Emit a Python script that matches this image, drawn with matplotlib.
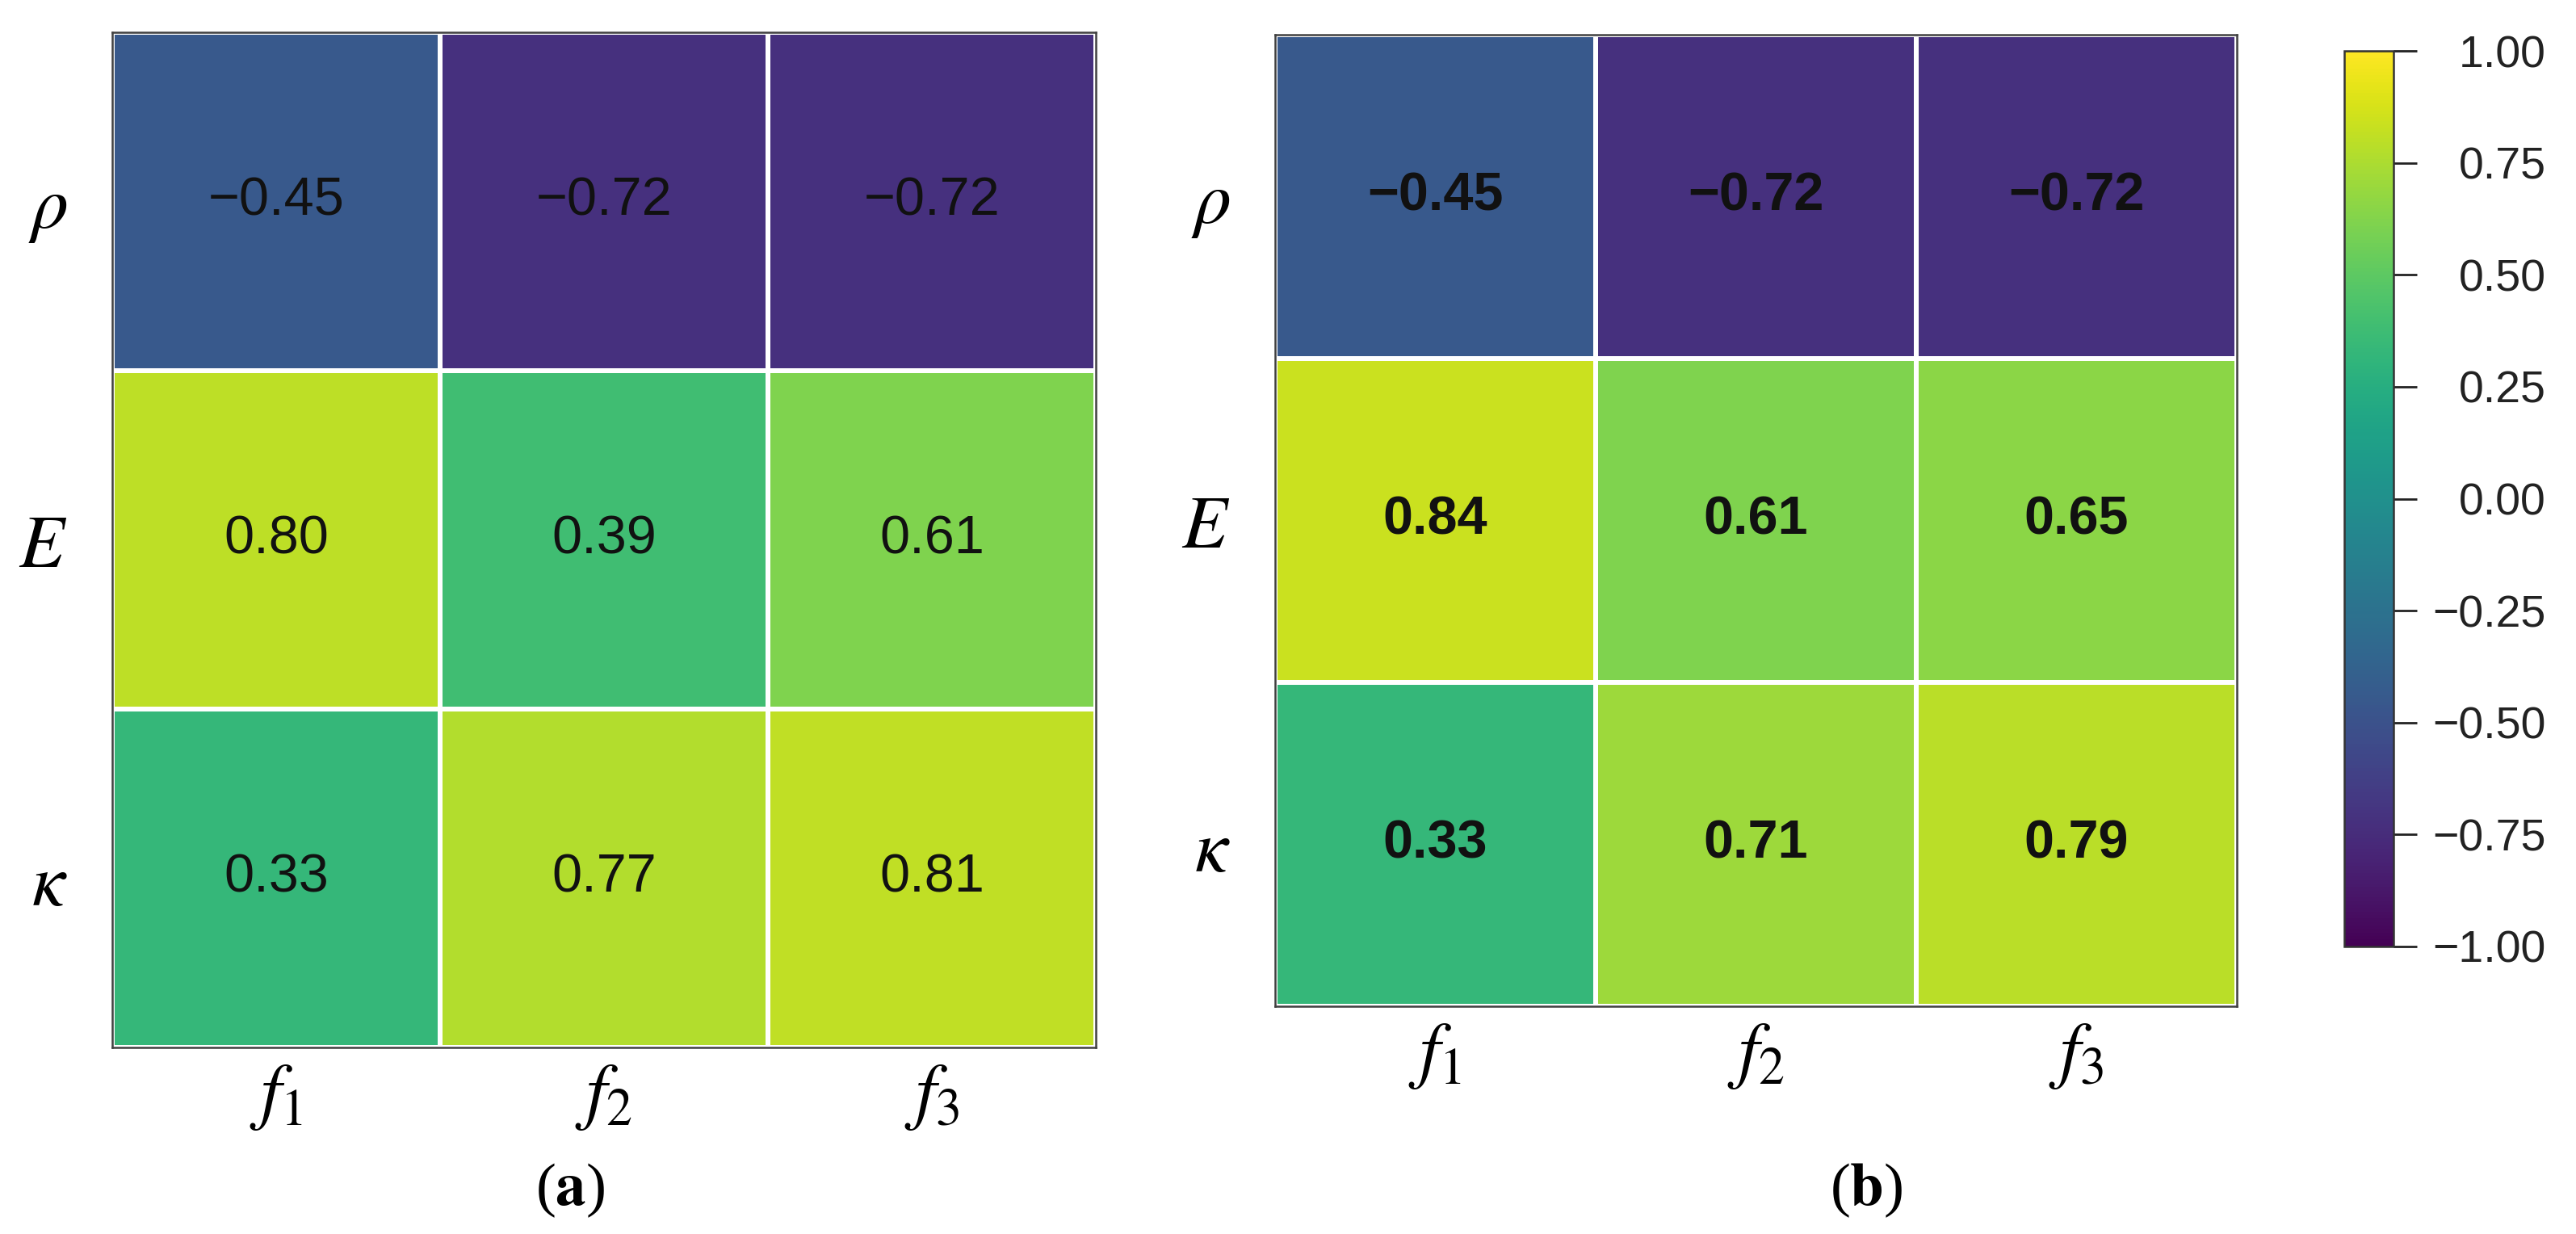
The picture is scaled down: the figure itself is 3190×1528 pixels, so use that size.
import numpy as np
import matplotlib
matplotlib.use("Agg")
import matplotlib.pyplot as plt
from matplotlib.ticker import FuncFormatter

plt.rcParams['mathtext.fontset'] = 'stix'
plt.rcParams['font.family'] = ['Liberation Sans', 'DejaVu Sans']

# Data
row_labels = [r'$\rho$', r'$E$', r'$\kappa$']
col_labels = [r'$f_1$', r'$f_2$', r'$f_3$']
corr_a = [[-0.45, -0.72, -0.72],
          [0.80, 0.39, 0.61],
          [0.33, 0.77, 0.81]]
corr_b = [[-0.45, -0.72, -0.72],
          [0.84, 0.61, 0.65],
          [0.33, 0.71, 0.79]]
panel_names = ['a', 'b']
cbar_ticks = [-1.00, -0.75, -0.50, -0.25, 0.00, 0.25, 0.50, 0.75, 1.00]

W, H = 3190, 1528
fig = plt.figure(figsize=(W / 100, H / 100), dpi=100)


def fx(px):
    return px / W


def fy(py):
    return 1 - py / H


def minus(v):
    return f"{v:.2f}".replace('-', '\u2212')


# axes boxes (pixel coords: left, top, right, bottom)
boxes = [(139, 40, 1357, 1297), (1579, 43, 2770, 1246)]
label_x = [706, 2311]
weights = ['normal', 'bold']


def draw_heatmap(ax, data, weight):
    data = np.array(data)
    mesh = ax.pcolormesh(data, cmap='viridis', vmin=-1, vmax=1,
                         edgecolors='white', linewidth=3.0)
    ax.set_xlim(0, data.shape[1])
    ax.set_ylim(data.shape[0], 0)
    for i in range(data.shape[0]):
        for j in range(data.shape[1]):
            ax.text(j + 0.5, i + 0.5, minus(data[i, j]), ha='center', va='center',
                    fontsize=48, fontweight=weight, color='#111111')
    ax.set_xticks(np.arange(data.shape[1]) + 0.5)
    ax.set_yticks(np.arange(data.shape[0]) + 0.5)
    ax.set_xticklabels(col_labels, fontsize=66)
    ax.set_yticklabels(row_labels, fontsize=66)
    ax.tick_params(length=0, pad=14)
    ax.tick_params(axis='y', pad=40)
    for sp in ax.spines.values():
        sp.set_color('#404040')
        sp.set_linewidth(1.8)
    return mesh


for k, (box, data) in enumerate(zip(boxes, [corr_a, corr_b])):
    l, t, r, b = box
    ax = fig.add_axes([fx(l), fy(b), fx(r) - fx(l), fy(t) - fy(b)])
    mesh = draw_heatmap(ax, data, weights[k])
    fig.text(fx(label_x[k]), fy(1474), r'($\mathbf{%s}$)' % panel_names[k],
             ha='center', va='center', fontsize=54, family='Liberation Serif')

# colorbar
cax = fig.add_axes([fx(2903), fy(1172), fx(2964) - fx(2903), fy(63) - fy(1172)])
cb = fig.colorbar(mesh, cax=cax, ticks=cbar_ticks)
cb.ax.yaxis.set_major_formatter(FuncFormatter(lambda v, p: minus(v)))
cb.ax.tick_params(labelsize=40, length=21, width=2, pad=115, color='#222222',
                  labelcolor='#222222')
for lab in cb.ax.get_yticklabels():
    lab.set_horizontalalignment('right')
cb.outline.set_edgecolor('#333333')
cb.outline.set_linewidth(1.8)

fig.savefig('out.png', dpi=100, facecolor='white')
